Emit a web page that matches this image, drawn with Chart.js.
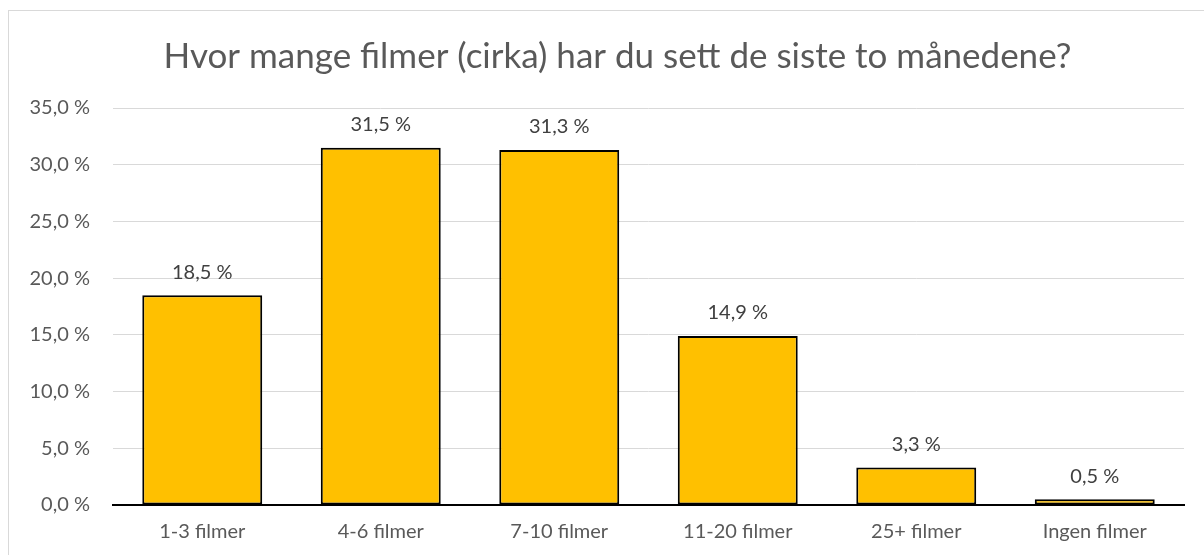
<!DOCTYPE html>
<html><head><meta charset="utf-8">
<script src="https://cdn.jsdelivr.net/npm/chart.js@4"></script>
<style>
html,body{margin:0;padding:0;background:#fff;overflow:hidden;}
#wrap{position:absolute;left:8px;top:10px;width:1200px;height:560px;border:1px solid #d9d9d9;}
canvas{display:block;}
</style></head><body>
<div id="wrap"><canvas id="c" width="1200" height="544"></canvas></div>
<script>
const titleText = "Hvor mange filmer (cirka) har du sett de siste to månedene?";
const categories = ["1-3 filmer","4-6 filmer","7-10 filmer","11-20 filmer","25+ filmer","Ingen filmer"];
const values = [18.5, 31.5, 31.3, 14.9, 3.3, 0.5];
const yTicks = [0,5,10,15,20,25,30,35];
const FONT = "Lato, 'Open Sans', sans-serif";
const fmt = v => v.toFixed(1).replace('.', ',') + ' %';

const labelPlugin = {
  id: 'barLabels',
  afterLayout(chart) {
    if (chart.titleBlock) { chart.titleBlock.left += 42; }
  },
  afterDatasetsDraw(chart) {
    const ctx = chart.ctx;
    const meta = chart.getDatasetMeta(0);
    ctx.save();
    ctx.font = "20px " + FONT;
    ctx.fillStyle = "#404040";
    ctx.textAlign = "center";
    ctx.textBaseline = "middle";
    meta.data.forEach((bar, i) => {
      ctx.fillText(fmt(values[i]), bar.x, bar.y - 23);
    });
    ctx.restore();
  }
};

new Chart(document.getElementById('c'), {
  type: 'bar',
  data: {
    labels: categories,
    datasets: [{
      data: values,
      backgroundColor: '#FFC000',
      borderColor: '#000000',
      borderWidth: 2,
      borderSkipped: false,
      categoryPercentage: 1,
      barPercentage: 0.672
    }]
  },
  options: {
    responsive: false,
    animation: false,
    devicePixelRatio: 1,
    layout: { padding: { left: 0, right: 25, top: 0, bottom: 0 } },
    plugins: {
      legend: { display: false },
      tooltip: { enabled: false },
      title: {
        display: true,
        text: titleText,
        color: '#595959',
        font: { family: FONT, size: 35, weight: 'normal' },
        padding: { top: 25, bottom: 30 }
      }
    },
    scales: {
      x: {
        grid: { display: false, drawTicks: false },
        border: { display: true, color: '#000000', width: 2 },
        ticks: { color: '#595959', font: { family: FONT, size: 20 }, padding: 15 },
        afterFit: s => { s.height = 50; }
      },
      y: {
        min: 0, max: 35,
        afterBuildTicks: s => { s.ticks = yTicks.map(v => ({ value: v })); },
        grid: { color: '#d9d9d9', lineWidth: 1, drawTicks: false },
        border: { display: false },
        ticks: { color: '#595959', font: { family: FONT, size: 20 }, padding: 23, callback: v => fmt(v) },
        afterFit: s => { s.width = 104; }
      }
    }
  },
  plugins: [labelPlugin]
});
</script>
</body></html>
